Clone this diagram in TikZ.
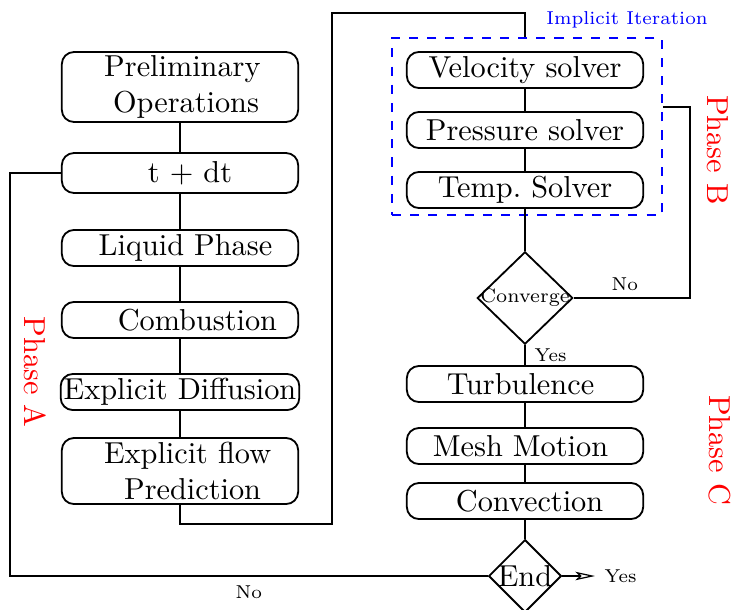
\documentclass[tikz,border=0pt]{standalone}
\usetikzlibrary{shapes.geometric,arrows.meta}
\begin{document}
\begin{tikzpicture}[x=3.3pt,y=-3.3pt,semithick,
    stage/.style={draw, rounded corners=4pt, minimum width=78pt, minimum height=11.9pt, inner sep=1pt, align=center},
    check/.style={draw, diamond, inner sep=0pt},
    lbl/.style={font=\scriptsize, scale=0.88, transform shape},
    phase/.style={red, rotate=-90}]
\useasboundingbox (0,0) rectangle (73.6,60.9);

% Phase A
\node[stage, minimum height=23.1pt] (prelim) at (18,8.7) {\hspace*{1.6pt}Preliminary\\\hspace*{4pt}Operations};
\node[stage, minimum height=13.2pt] (tdt) at (18,17.3) {\hspace*{6.6pt}t + dt};
\node[stage] (liquid) at (18,24.8) {\hspace*{3.6pt}Liquid Phase};
\node[stage] (comb) at (18,32.0) {\hspace*{11.5pt}Combustion};
\node[stage] (diff) at (18,39.2) {Explicit Diffusion};
\node[stage, minimum height=21.8pt] (flow) at (18,47.1) {\hspace*{5pt}Explicit flow\\\hspace*{8.3pt}Prediction};

\draw (prelim) -- (tdt) -- (liquid) -- (comb) -- (diff) -- (flow);

% Phase B
\node[draw=blue, dashed, minimum width=89.1pt, minimum height=58.4pt] (iter) at (52.7,12.65) {};
\node[blue, lbl] at (62.7,2.0) {Implicit Iteration};
\node[stage] (vel) at (52.5,7.0) {Velocity solver};
\node[stage] (pres) at (52.5,13.0) {Pressure solver};
\node[stage] (temp) at (52.5,19.0) {Temp.\ Solver};
\node[check, minimum width=31.5pt, minimum height=30.5pt] (conv) at (52.5,29.8) {\makebox[0pt]{\scalebox{0.92}{\scriptsize Converge}}};

\draw (vel) -- (pres) -- (temp);
\draw (temp.south) -- (conv.north);

% Phase C
\node[stage] (turb) at (52.5,38.4) {Turbulence\hspace*{3pt}};
\node[stage] (mesh) at (52.5,44.6) {Mesh Motion\hspace*{3pt}};
\node[stage] (conv2) at (52.5,50.1) {\hspace*{3pt}Convection};
\node[check, minimum width=24pt, minimum height=24pt] (end) at (52.5,57.6) {\makebox[0pt]{End}};

\draw (conv.south) -- node[lbl, right] {Yes} (turb.north);
\draw (turb) -- (mesh) -- (conv2) -- (end);

% loops
\coordinate (c1) at (33.2,52.4);
\coordinate (c2) at (33.2,1.3);
\coordinate (c3) at (vel.north |- iter.north);
\draw (flow.south) |- (c1) -- (c2) -| (c3);

\coordinate (c4) at (69.0,10.7);
\draw (conv.east) -| node[lbl, above=-1pt, pos=0.22] {No} (c4) -- (c4 -| iter.east);

\coordinate (c5) at (1.0,57.6);
\draw (end.west) -- node[lbl, below] {No} (c5) |- (tdt.west);

\coordinate (yesend) at (59.5,57.6);
\draw[-{Stealth[open, length=6.5pt, width=2.8pt, inset=1.5pt, line width=0.4pt]}] (end.east) -- (yesend) node[lbl, right] {Yes};

\node[phase] at (3.5,37.2) {Phase A};
\node[phase] at (71.8,15.0) {Phase B};
\node[phase] at (72.0,45.0) {Phase C};
\end{tikzpicture}
\end{document}
